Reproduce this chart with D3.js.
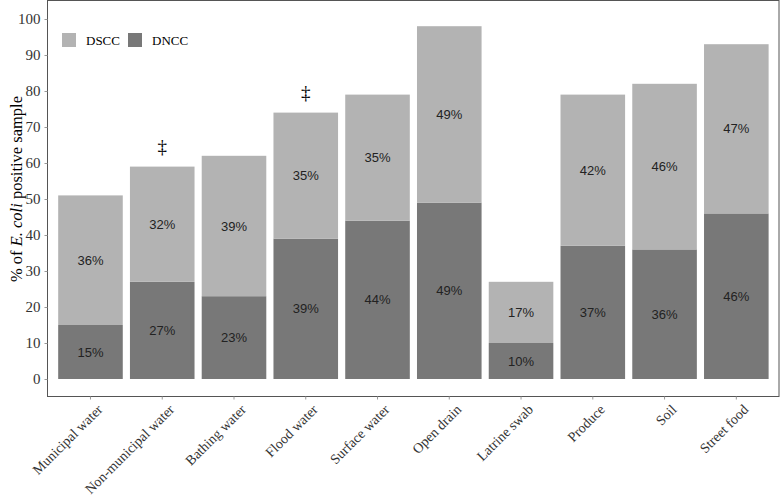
<!DOCTYPE html>
<html>
<head>
<meta charset="utf-8">
<script src="https://cdn.jsdelivr.net/npm/d3@7"></script>
<style>
  body { margin: 0; background: #fff; }
  svg { display: block; }
</style>
</head>
<body>
<div id="chart"></div>
<script>
// data
const categories = ["Municipal water", "Non-municipal water", "Bathing water", "Flood water",
  "Surface water", "Open drain", "Latrine swab", "Produce", "Soil", "Street food"];
const dncc = [15, 27, 23, 39, 44, 49, 10, 37, 36, 46];
const dscc = [36, 32, 39, 35, 35, 49, 17, 42, 46, 47];
const flagged = ["Non-municipal water", "Flood water"];
const yTicks = [0, 10, 20, 30, 40, 50, 60, 70, 80, 90, 100];

const W = 781, H = 497;
const panel = {left: 47.5, top: 0.5, right: 779, bottom: 396.5};
const serif = "'Liberation Serif', 'Times New Roman', serif";
const sans = "'Liberation Sans', Arial, sans-serif";
const light = "#b3b3b3", dark = "#787878";

const svg = d3.select("#chart")
  .append("svg")
    .attr("width", W)
    .attr("height", H);

// scales
const x = d3.scaleBand()
  .domain(categories)
  .range([54.6, 772.2])
  .paddingInner(0.1)
  .paddingOuter(0.05);

const y = d3.scaleLinear()
  .domain([0, 100])
  .range([379, 19]);

const rows = categories.map((c, i) => ({cat: c, dncc: dncc[i], dscc: dscc[i]}));

// panel border
svg.append("rect")
  .attr("x", panel.left)
  .attr("y", panel.top)
  .attr("width", panel.right - panel.left)
  .attr("height", panel.bottom - panel.top)
  .attr("fill", "none")
  .attr("stroke", "#555")
  .attr("stroke-width", 1);

// bars - bottom (DNCC)
svg.selectAll("rect.dncc")
  .data(rows)
  .enter()
  .append("rect")
    .attr("class", "dncc")
    .attr("x", d => x(d.cat))
    .attr("width", x.bandwidth())
    .attr("y", d => y(d.dncc))
    .attr("height", d => y(0) - y(d.dncc))
    .attr("fill", dark);

// bars - top (DSCC)
svg.selectAll("rect.dscc")
  .data(rows)
  .enter()
  .append("rect")
    .attr("class", "dscc")
    .attr("x", d => x(d.cat))
    .attr("width", x.bandwidth())
    .attr("y", d => y(d.dncc + d.dscc))
    .attr("height", d => y(d.dncc) - y(d.dncc + d.dscc))
    .attr("fill", light);

// value labels
svg.selectAll("text.lab-dncc")
  .data(rows)
  .enter()
  .append("text")
    .attr("x", d => x(d.cat) + x.bandwidth() / 2)
    .attr("y", d => y(d.dncc / 2))
    .attr("dy", "0.35em")
    .attr("text-anchor", "middle")
    .style("font-family", sans)
    .style("font-size", "13px")
    .attr("fill", "#222")
    .text(d => d.dncc + "%");

svg.selectAll("text.lab-dscc")
  .data(rows)
  .enter()
  .append("text")
    .attr("x", d => x(d.cat) + x.bandwidth() / 2)
    .attr("y", d => y(d.dncc + d.dscc / 2))
    .attr("dy", "0.35em")
    .attr("text-anchor", "middle")
    .style("font-family", sans)
    .style("font-size", "13px")
    .attr("fill", "#222")
    .text(d => d.dscc + "%");

// double dagger marks
svg.selectAll("text.flag")
  .data(rows.filter(d => flagged.includes(d.cat)))
  .enter()
  .append("text")
    .attr("x", d => x(d.cat) + x.bandwidth() / 2)
    .attr("y", d => y(d.dncc + d.dscc) - 14)
    .attr("text-anchor", "middle")
    .style("font-family", serif)
    .style("font-size", "19px")
    .attr("fill", "#000")
    .text("\u2021");

// Y axis
const yAxis = svg.append("g")
  .attr("transform", "translate(" + panel.left + ",0)")
  .call(d3.axisLeft(y).tickValues(yTicks).tickSize(3).tickPadding(4));
yAxis.select(".domain").remove();
yAxis.selectAll("line").attr("stroke", "#999");
yAxis.selectAll("text")
  .style("font-family", serif)
  .style("font-size", "15px")
  .attr("fill", "#333");

// X axis
const xAxis = svg.append("g")
  .attr("transform", "translate(0," + panel.bottom + ")")
  .call(d3.axisBottom(x).tickSize(3).tickPadding(4));
xAxis.select(".domain").remove();
xAxis.selectAll("line").attr("stroke", "#999");
xAxis.selectAll("text")
  .style("font-family", serif)
  .style("font-size", "14px")
  .attr("fill", "#333")
  .attr("text-anchor", "end")
  .attr("dy", "0.6em")
  .attr("transform", "translate(2,3)rotate(-45)");

// Y title
const ytitle = svg.append("text")
  .attr("transform", "translate(16," + (y(50) - 10) + ")rotate(-90)")
  .attr("text-anchor", "middle")
  .attr("dy", "0.35em")
  .style("font-family", serif)
  .style("font-size", "16.5px")
  .attr("fill", "#000");
ytitle.append("tspan").text("% of ");
ytitle.append("tspan").style("font-style", "italic").text("E. coli");
ytitle.append("tspan").text(" positive sample");

// legend
const legend = [{name: "DSCC", color: light, x: 62}, {name: "DNCC", color: dark, x: 128}];
const lg = svg.selectAll("g.legend")
  .data(legend)
  .enter()
  .append("g")
    .attr("transform", d => "translate(" + d.x + ",33)");
lg.append("rect")
  .attr("width", 14)
  .attr("height", 14)
  .attr("fill", d => d.color);
lg.append("text")
  .attr("x", 24)
  .attr("y", 7)
  .attr("dy", "0.35em")
  .style("font-family", serif)
  .style("font-size", "13px")
  .attr("fill", "#000")
  .text(d => d.name);
</script>
</body>
</html>
